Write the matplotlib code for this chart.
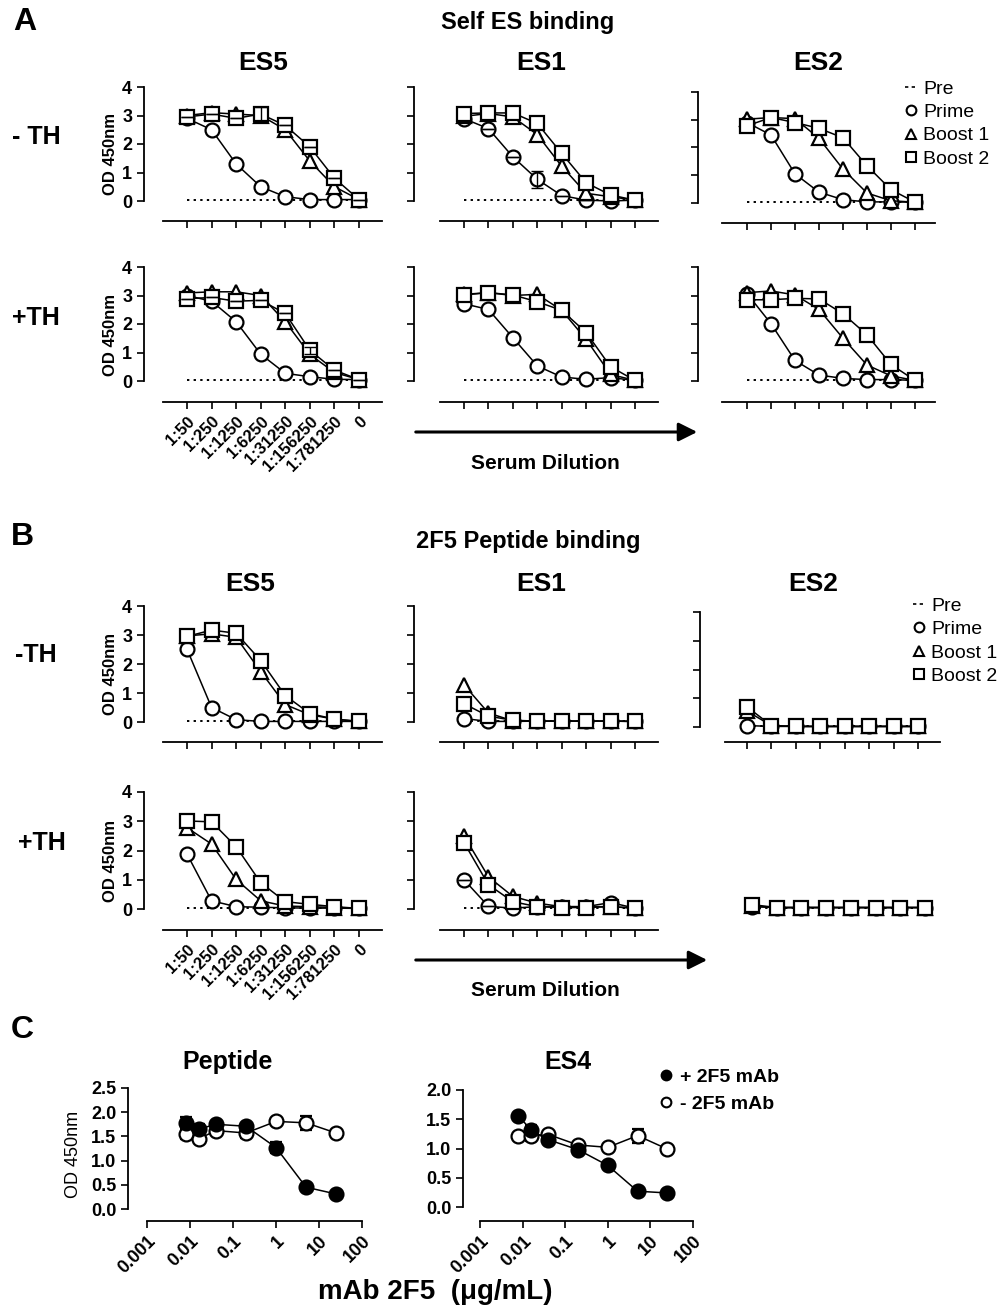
# Antibody binding panels (A: self ES, B: 2F5 peptide, C: 2F5 competition)
import numpy as np
import matplotlib.pyplot as plt
from matplotlib.lines import Line2D
from matplotlib.patches import FancyArrowPatch
from matplotlib.ticker import LogLocator, NullFormatter

plt.rcParams['font.family'] = ['Liberation Sans', 'DejaVu Sans']

W, H = 1004, 1307

# %% data
dilutions = ["1:50", "1:250", "1:1250", "1:6250", "1:31250", "1:156250", "1:781250", "0"]
steps = np.arange(len(dilutions))
pre = [0.05, 0.05, 0.05, 0.05, 0.05, 0.05, 0.05, 0.05]

# A, -TH
a_es5_mth_prime = [2.9, 2.5, 1.3, 0.5, 0.15, 0.05, 0.05, 0.05]
a_es5_mth_b1 = [3.0, 3.1, 3.05, 3.0, 2.5, 1.4, 0.5, 0.05]
a_es5_mth_b2 = [2.95, 3.05, 2.9, 3.05, 2.65, 1.9, 0.8, 0.05]
a_es1_mth_prime = [2.89, 2.54, 1.55, 0.76, 0.19, 0.03, 0.0, 0.03]
a_es1_mth_b1 = [2.97, 3.07, 2.95, 2.33, 1.22, 0.27, 0.15, 0.03]
a_es1_mth_b2 = [3.07, 3.09, 3.09, 2.72, 1.67, 0.64, 0.21, 0.03]
a_es2_mth_prime = [2.9, 2.45, 1.05, 0.39, 0.12, 0.04, 0.04, 0.03]
a_es2_mth_b1 = [3.02, 3.08, 3.04, 2.33, 1.22, 0.36, 0.08, 0.03]
a_es2_mth_b2 = [2.78, 3.08, 2.9, 2.69, 2.35, 1.34, 0.48, 0.03]
# A, +TH
a_es5_pth_prime = [3.0, 2.8, 2.08, 0.94, 0.27, 0.15, 0.06, 0.05]
a_es5_pth_b1 = [3.09, 3.13, 3.13, 3.0, 2.08, 0.93, 0.3, 0.05]
a_es5_pth_b2 = [2.89, 2.93, 2.8, 2.83, 2.37, 1.08, 0.38, 0.05]
a_es1_pth_prime = [2.71, 2.51, 1.52, 0.53, 0.14, 0.06, 0.12, 0.02]
a_es1_pth_b1 = [3.04, 3.1, 3.0, 3.04, 2.48, 1.46, 0.23, 0.02]
a_es1_pth_b2 = [3.02, 3.1, 3.02, 2.78, 2.48, 1.7, 0.5, 0.02]
a_es2_pth_prime = [3.07, 2.01, 0.72, 0.21, 0.09, 0.05, 0.05, 0.02]
a_es2_pth_b1 = [3.1, 3.16, 3.02, 2.51, 1.5, 0.56, 0.18, 0.02]
a_es2_pth_b2 = [2.85, 2.85, 2.9, 2.88, 2.36, 1.62, 0.58, 0.02]
# B, -TH
b_es5_mth_prime = [2.51, 0.5, 0.08, 0.02, 0.02, 0.02, 0.02, 0.02]
b_es5_mth_b1 = [2.97, 3.04, 2.92, 1.74, 0.6, 0.25, 0.1, 0.02]
b_es5_mth_b2 = [2.95, 3.17, 3.06, 2.12, 0.91, 0.29, 0.1, 0.02]
b_es1_mth_prime = [0.12, 0.02, 0.02, 0.03, 0.03, 0.03, 0.03, 0.02]
b_es1_mth_b1 = [1.28, 0.31, 0.04, 0.03, 0.03, 0.03, 0.03, 0.02]
b_es1_mth_b2 = [0.63, 0.2, 0.06, 0.03, 0.03, 0.03, 0.03, 0.02]
b_es2_mth_prime = [0.05, 0.02, 0.02, 0.02, 0.02, 0.02, 0.02, 0.02]
b_es2_mth_b1 = [0.55, 0.05, 0.02, 0.02, 0.02, 0.02, 0.02, 0.02]
b_es2_mth_b2 = [0.7, 0.05, 0.02, 0.02, 0.02, 0.02, 0.02, 0.02]
# B, +TH
b_es5_pth_prime = [1.88, 0.28, 0.08, 0.06, 0.04, 0.03, 0.03, 0.02]
b_es5_pth_b1 = [2.78, 2.22, 1.01, 0.28, 0.1, 0.08, 0.05, 0.02]
b_es5_pth_b2 = [3.01, 2.98, 2.13, 0.9, 0.25, 0.16, 0.08, 0.02]
b_es1_pth_prime = [1.0, 0.09, 0.03, 0.08, 0.08, 0.08, 0.22, 0.03]
b_es1_pth_b1 = [2.5, 1.1, 0.43, 0.2, 0.08, 0.08, 0.08, 0.03]
b_es1_pth_b2 = [2.27, 0.83, 0.25, 0.08, 0.05, 0.05, 0.08, 0.03]
b_es2_pth_prime = [0.08, 0.05, 0.05, 0.05, 0.05, 0.05, 0.05, 0.05]
b_es2_pth_b1 = [0.1, 0.05, 0.05, 0.05, 0.05, 0.05, 0.05, 0.05]
b_es2_pth_b2 = [0.15, 0.05, 0.05, 0.05, 0.05, 0.05, 0.05, 0.05]

# error bars (SD) where visible
a_es5_mth_b2_err = [0, 0, 0, 0.25, 0, 0, 0, 0]
a_es1_mth_prime_err = [0, 0, 0, 0.3, 0, 0, 0, 0]
a_es5_pth_b2_err = [0, 0, 0, 0, 0, 0.12, 0, 0]
b_es1_pth_prime_err = [0, 0, 0, 0, 0, 0, 0.08, 0]

# C: competition with mAb 2F5
conc = [0.008, 0.016, 0.04, 0.2, 1, 5, 25]
pep_plus = [1.78, 1.65, 1.75, 1.71, 1.27, 0.45, 0.31]
pep_plus_err = [0.12, 0.1, 0, 0, 0.12, 0, 0]
pep_minus = [1.55, 1.45, 1.62, 1.57, 1.81, 1.78, 1.57]
pep_minus_err = [0.1, 0, 0, 0.1, 0, 0.15, 0]
es4_plus = [1.56, 1.31, 1.15, 0.98, 0.71, 0.27, 0.24]
es4_plus_err = [0, 0.1, 0, 0.07, 0, 0, 0]
es4_minus = [1.22, 1.22, 1.24, 1.06, 1.02, 1.22, 0.99]
es4_minus_err = [0, 0.1, 0, 0, 0, 0.12, 0]

# %% figure
fig = plt.figure(figsize=(W / 100, H / 100), dpi=100)


def px_axes(left, top, right, bottom):
    ax = fig.add_axes([left / W, 1 - bottom / H, (right - left) / W, (bottom - top) / H])
    ax.set_facecolor('none')
    return ax


def ftext(x, y, s, **kw):
    fig.text(x / W, 1 - y / H, s, ha='center', va='center', **kw)


def dilution_panel(geo, prime, b1, b2, errs=None, ylab=False, xlab=False, axes_on=True):
    ys, x0, x7, xl, xr, y4, y0, xa = geo
    ax = px_axes(ys, y4, xr, xa)
    u = (x7 - x0) / 7
    v = (y0 - y4) / 4
    ax.set_xlim((ys - x0) / u, (xr - x0) / u)
    ax.set_ylim(-(xa - y0) / v, 4)
    ax.plot(steps, pre, ls=(0, (1.2, 2.2)), color='black', lw=1.4, clip_on=False)
    for vals, m, ms, key in [(prime, 'o', 10, 'prime'), (b1, '^', 10, 'b1'), (b2, 's', 9.5, 'b2')]:
        ax.plot(steps, vals, marker=m, ms=ms, mfc='white', mec='black', mew=1.6,
                color='black', lw=1.1, clip_on=False)
        if errs and key in errs:
            ax.errorbar(steps, vals, yerr=errs[key], fmt='none', ecolor='black',
                        elinewidth=1, capsize=4, clip_on=False)
    for s in ['top', 'right']:
        ax.spines[s].set_visible(False)
    if not axes_on:
        ax.axis('off')
        return ax
    ax.spines['left'].set_bounds(0, 4)
    ax.spines['bottom'].set_bounds((xl - x0) / u, (xr - x0) / u)
    for s in ['left', 'bottom']:
        ax.spines[s].set_linewidth(1.3)
    ax.set_yticks([0, 1, 2, 3, 4])
    ax.set_xticks(steps)
    ax.tick_params(direction='out', length=5, width=1.2)
    if ylab:
        ax.set_yticklabels(['0', '1', '2', '3', '4'], fontsize=13, fontweight='bold')
        ax.set_ylabel('OD 450nm', fontsize=12, fontweight='bold', labelpad=3)
    else:
        ax.set_yticklabels([])
    if xlab:
        ax.set_xticklabels(dilutions, rotation=45, ha='right', va='top',
                           rotation_mode='anchor', fontsize=12, fontweight='bold')
    else:
        ax.set_xticklabels([])
    return ax


# geometry in pixels: y-spine x, first/last point x, x-axis left/right, y=4, y=0, x-axis y
col0 = (144, 187, 359, 163, 382)
col1 = (414, 464, 635, 440, 658)
col2 = (698, 747, 915, 722, 935)
rowA1 = (87, 201, 221)
rowA2 = (267, 381, 402)
rowB1 = (606, 722, 742)
rowB2 = (792, 909, 930)

# Panel A
ftext(25, 22, 'A', fontsize=23, fontweight='bold')
ftext(528, 22, 'Self ES binding', fontsize=17, fontweight='bold')
for x, t in [(263, 'ES5'), (541, 'ES1'), (818, 'ES2')]:
    ftext(x, 63, t, fontsize=19, fontweight='bold')
ftext(36, 137, '- TH', fontsize=18, fontweight='bold')
ftext(36, 318, '+TH', fontsize=18, fontweight='bold')

dilution_panel(col0 + rowA1, a_es5_mth_prime, a_es5_mth_b1, a_es5_mth_b2,
               errs={'b2': a_es5_mth_b2_err}, ylab=True)
dilution_panel(col1 + rowA1, a_es1_mth_prime, a_es1_mth_b1, a_es1_mth_b2,
               errs={'prime': a_es1_mth_prime_err})
dilution_panel(col2 + (92, 203, 223), a_es2_mth_prime, a_es2_mth_b1, a_es2_mth_b2)
dilution_panel(col0 + rowA2, a_es5_pth_prime, a_es5_pth_b1, a_es5_pth_b2,
               errs={'b2': a_es5_pth_b2_err}, ylab=True, xlab=True)
dilution_panel(col1 + rowA2, a_es1_pth_prime, a_es1_pth_b1, a_es1_pth_b2)
dilution_panel(col2 + rowA2, a_es2_pth_prime, a_es2_pth_b1, a_es2_pth_b2)

# Panel B
ftext(22, 537, 'B', fontsize=23, fontweight='bold')
ftext(528, 542, '2F5 Peptide binding', fontsize=17, fontweight='bold')
for x, t in [(250, 'ES5'), (541, 'ES1'), (813, 'ES2')]:
    ftext(x, 584, t, fontsize=19, fontweight='bold')
ftext(36, 655, '-TH', fontsize=18, fontweight='bold')
ftext(42, 843, '+TH', fontsize=18, fontweight='bold')

dilution_panel(col0 + rowB1, b_es5_mth_prime, b_es5_mth_b1, b_es5_mth_b2, ylab=True)
dilution_panel(col1 + rowB1, b_es1_mth_prime, b_es1_mth_b1, b_es1_mth_b2)
dilution_panel((700, 747, 918, 725, 940, 612, 727, 742), b_es2_mth_prime, b_es2_mth_b1, b_es2_mth_b2)
dilution_panel(col0 + rowB2, b_es5_pth_prime, b_es5_pth_b1, b_es5_pth_b2, ylab=True, xlab=True)
dilution_panel(col1 + rowB2, b_es1_pth_prime, b_es1_pth_b1, b_es1_pth_b2,
               errs={'prime': b_es1_pth_prime_err})
dilution_panel((700, 752, 925, 725, 940) + rowB2, b_es2_pth_prime, b_es2_pth_b1, b_es2_pth_b2,
               axes_on=False)

# serum dilution arrows
for y0, x1, ty in [(432, 700, 463), (960, 710, 990)]:
    fig.add_artist(FancyArrowPatch((413 / W, 1 - y0 / H), (x1 / W, 1 - y0 / H),
                                   transform=fig.transFigure, arrowstyle='-|>',
                                   mutation_scale=28, lw=2.2, color='black'))
    ftext(545, ty, 'Serum Dilution', fontsize=15, fontweight='bold')

# legends for A and B
leg_handles = [Line2D([], [], ls=(0, (2, 2)), color='black', lw=1.2),
               Line2D([], [], ls='none', marker='o', ms=7, mfc='white', mec='black', mew=1.5),
               Line2D([], [], ls='none', marker='^', ms=7, mfc='white', mec='black', mew=1.5),
               Line2D([], [], ls='none', marker='s', ms=7, mfc='white', mec='black', mew=1.5)]
leg_labels = ['Pre', 'Prime', 'Boost 1', 'Boost 2']
for lx, ly in [(905, 80), (913, 597)]:
    fig.legend(leg_handles, leg_labels, loc='upper left', bbox_to_anchor=(lx / W, 1 - ly / H),
               frameon=False, fontsize=14, handlelength=0.6, handletextpad=0.35,
               labelspacing=0.3, borderpad=0, borderaxespad=0)


# Panel C
def log_panel(ys, x001, x100, ytop, y0, xa, ymax, plus, plus_err, minus, minus_err, ylab=False):
    ax = px_axes(ys, ytop, x100 + 1, xa)
    d = (x100 - x001) / 5
    ax.set_xscale('log')
    ax.set_xlim(10 ** (-3 - (x001 - ys) / d), 10 ** (2 + 1 / d))
    v = (y0 - ytop) / ymax
    ax.set_ylim(-(xa - y0) / v, ymax)
    ax.errorbar(conc, minus, yerr=minus_err, fmt='-o', color='black', ms=10, mfc='white',
                mec='black', mew=1.6, lw=1.1, elinewidth=1, capsize=4, clip_on=False)
    ax.errorbar(conc, plus, yerr=plus_err, fmt='-o', color='black', ms=10, mfc='black',
                mec='black', mew=1.6, lw=1.1, elinewidth=1, capsize=4, clip_on=False)
    for s in ['top', 'right']:
        ax.spines[s].set_visible(False)
    for s in ['left', 'bottom']:
        ax.spines[s].set_linewidth(1.3)
    ax.spines['left'].set_bounds(0, ymax)
    ax.spines['bottom'].set_bounds(0.001, 100)
    yt = np.arange(0, ymax + 0.01, 0.5)
    ax.set_yticks(yt)
    ax.set_yticklabels(['%.1f' % t for t in yt], fontsize=13, fontweight='bold')
    xt = [0.001, 0.01, 0.1, 1, 10, 100]
    ax.set_xticks(xt)
    ax.set_xticklabels(['0.001', '0.01', '0.1', '1', '10', '100'], rotation=45, ha='right',
                       va='top', rotation_mode='anchor', fontsize=13, fontweight='bold')
    ax.xaxis.set_minor_locator(LogLocator(base=10, subs=np.arange(2, 10)))
    ax.xaxis.set_minor_formatter(NullFormatter())
    ax.tick_params(direction='out', length=5, width=1.2)
    ax.tick_params(which='minor', direction='out', length=2.5, width=0.8)
    if ylab:
        ax.set_ylabel('OD 450nm', fontsize=13, labelpad=6)
    return ax


ftext(22, 1030, 'C', fontsize=23, fontweight='bold')
ftext(228, 1062, 'Peptide', fontsize=18, fontweight='bold')
ftext(568, 1062, 'ES4', fontsize=18, fontweight='bold')
log_panel(128, 147, 362, 1088, 1209, 1221, 2.5, pep_plus, pep_plus_err, pep_minus, pep_minus_err,
          ylab=True)
log_panel(463, 480, 693, 1090, 1207, 1221, 2.0, es4_plus, es4_plus_err, es4_minus, es4_minus_err)
ftext(435, 1292, 'mAb 2F5  (\u03bcg/mL)', fontsize=20, fontweight='bold')

c_handles = [Line2D([], [], ls='none', marker='o', ms=7, mfc='black', mec='black', mew=1.5),
             Line2D([], [], ls='none', marker='o', ms=7, mfc='white', mec='black', mew=1.5)]
fig.legend(c_handles, ['+ 2F5 mAb', '- 2F5 mAb'], loc='upper left',
           bbox_to_anchor=(660 / W, 1 - 1068 / H), frameon=False, handlelength=0.6,
           handletextpad=0.45, labelspacing=0.5, borderpad=0, borderaxespad=0,
           prop={'size': 14, 'weight': 'bold'})

fig.savefig('out.png', dpi=100)
